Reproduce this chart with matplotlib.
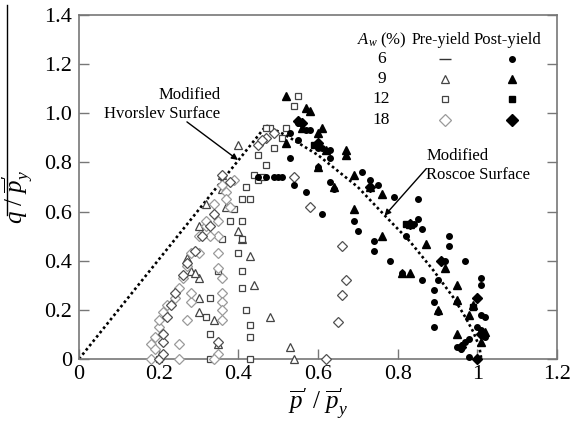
import matplotlib
matplotlib.use("Agg")
import matplotlib.pyplot as plt
from matplotlib.lines import Line2D

plt.rcParams["font.family"] = ["Liberation Serif", "DejaVu Serif"]
plt.rcParams["mathtext.fontset"] = "custom"
plt.rcParams["mathtext.rm"] = "Liberation Serif"
plt.rcParams["mathtext.it"] = "Liberation Serif:italic"
plt.rcParams["mathtext.bf"] = "Liberation Serif:bold"

# ---- data: normalised mean stress p'/p'y and deviator stress q/p'y ----
# pre-yield, Aw = 9 %
pre9_p = [0.40, 0.36, 0.36, 0.37, 0.32, 0.30, 0.40, 0.41, 0.27, 0.28, 0.30, 0.43,
          0.44, 0.30, 0.30, 0.34, 0.48, 0.35, 0.53, 0.54, 0.29]
pre9_q = [0.87, 0.75, 0.69, 0.62, 0.63, 0.54, 0.52, 0.49, 0.41, 0.36, 0.33, 0.42,
          0.30, 0.25, 0.19, 0.16, 0.17, 0.06, 0.05, 0.00, 0.35]
# pre-yield, Aw = 12 %
pre12_p = [0.55, 0.54, 0.48, 0.47, 0.52, 0.51, 0.49, 0.45, 0.47, 0.44, 0.45, 0.42,
           0.41, 0.43, 0.39, 0.38, 0.41, 0.36, 0.41, 0.40, 0.41, 0.41, 0.42, 0.43,
           0.43, 0.43, 0.33, 0.32, 0.33, 0.33, 0.35, 0.20, 0.46]
pre12_q = [1.07, 1.03, 0.94, 0.94, 0.94, 0.90, 0.86, 0.83, 0.79, 0.75, 0.73, 0.70,
           0.65, 0.65, 0.61, 0.56, 0.56, 0.49, 0.49, 0.43, 0.36, 0.29, 0.20, 0.14,
           0.09, 0.00, 0.25, 0.17, 0.10, 0.00, 0.36, 0.00, 0.74]
# pre-yield, Aw = 18 % (darker tests)
pre18a_p = [0.47, 0.45, 0.46, 0.49, 0.54, 0.58, 0.66, 0.67, 0.66, 0.65, 0.62,
            0.20, 0.21, 0.21, 0.21, 0.22, 0.23, 0.24, 0.26, 0.27, 0.29, 0.31,
            0.33, 0.34, 0.38, 0.36, 0.35]
pre18a_q = [0.90, 0.87, 0.89, 0.92, 0.74, 0.62, 0.46, 0.32, 0.26, 0.15, 0.00,
            0.00, 0.02, 0.07, 0.10, 0.17, 0.22, 0.27, 0.34, 0.39, 0.44, 0.50,
            0.54, 0.59, 0.72, 0.75, 0.07]
# pre-yield, Aw = 18 % (lighter tests)
pre18b_p = [0.25, 0.25, 0.27, 0.28, 0.28, 0.30, 0.32, 0.35, 0.35, 0.35, 0.35,
            0.36, 0.36, 0.36, 0.36, 0.36, 0.35, 0.34, 0.39, 0.37, 0.37, 0.36,
            0.18, 0.18, 0.19, 0.19, 0.20, 0.20, 0.21, 0.22, 0.24, 0.25, 0.26,
            0.27, 0.28, 0.30, 0.32, 0.33, 0.34, 0.38]
pre18b_q = [0.00, 0.06, 0.16, 0.23, 0.27, 0.43, 0.54, 0.56, 0.50, 0.43, 0.37,
            0.33, 0.27, 0.23, 0.20, 0.16, 0.02, 0.00, 0.73, 0.68, 0.65, 0.71,
            0.00, 0.06, 0.04, 0.09, 0.13, 0.16, 0.19, 0.22, 0.25, 0.29, 0.33,
            0.38, 0.43, 0.50, 0.56, 0.50, 0.63, 0.62]
# post-yield, Aw = 6 %
post6_p = [0.53, 0.55, 0.53, 0.54, 0.57, 0.55, 0.57, 0.58, 0.60, 0.61, 0.61, 0.63,
           0.63, 0.63, 0.64, 0.60, 0.45, 0.47, 0.49, 0.50, 0.69, 0.70, 0.71, 0.73,
           0.74, 0.74, 0.78, 0.79, 0.81, 0.82, 0.84, 0.85, 0.85, 0.86, 0.86, 0.89,
           0.89, 0.89, 0.90, 0.90, 0.92, 0.93, 0.93, 0.95, 0.96, 0.97, 0.97, 0.98,
           0.98, 1.00, 1.00, 1.01, 1.01, 1.01, 1.02, 1.01, 1.02, 0.95, 0.75, 0.51]
post6_q = [0.92, 0.89, 0.82, 0.71, 0.68, 0.96, 0.93, 0.93, 0.86, 0.86, 0.59, 0.82,
           0.85, 0.72, 0.69, 0.78, 0.74, 0.74, 0.74, 0.74, 0.56, 0.52, 0.76, 0.73,
           0.48, 0.44, 0.40, 0.66, 0.35, 0.50, 0.55, 0.65, 0.57, 0.53, 0.32, 0.28,
           0.23, 0.13, 0.19, 0.32, 0.40, 0.50, 0.46, 0.05, 0.04, 0.40, 0.07, 0.08,
           0.01, 0.13, 0.00, 0.33, 0.30, 0.18, 0.17, 0.12, 0.09, 0.23, 0.71, 0.74]
# post-yield, Aw = 9 %
post9_p = [0.52, 0.57, 0.58, 0.60, 0.61, 0.62, 0.52, 0.60, 0.67, 0.67, 0.69, 0.69,
           0.73, 0.76, 0.76, 0.81, 0.83, 0.87, 0.92, 0.95, 0.95, 0.98, 0.99, 0.90,
           0.83, 1.02, 1.01, 0.64, 0.56, 0.95]
post9_q = [1.07, 1.02, 1.01, 0.92, 0.94, 0.85, 0.88, 0.78, 0.85, 0.83, 0.75, 0.61,
           0.70, 0.67, 0.50, 0.35, 0.35, 0.47, 0.37, 0.30, 0.10, 0.18, 0.22, 0.20,
           0.55, 0.11, 0.07, 0.70, 0.94, 0.24]
# post-yield, Aw = 12 %
post12_p = [0.59, 0.82, 0.99]
post12_q = [0.87, 0.55, 0.21]
# post-yield, Aw = 18 %
post18_p = [0.55, 0.60, 0.73, 0.91, 0.83, 1.00, 1.00, 0.96, 1.01, 0.56]
post18_q = [0.97, 0.88, 0.70, 0.40, 0.55, 0.25, 0.00, 0.05, 0.10, 0.96]

# yield surfaces
hvorslev_p = [0.0, 0.47]
hvorslev_q = [0.0, 0.95]
roscoe_p = [0.47, 0.52, 0.60, 0.70, 0.77, 0.83, 0.89, 0.94, 0.97, 0.99, 1.005, 1.01]
roscoe_q = [0.95, 0.91, 0.83, 0.70, 0.58, 0.48, 0.36, 0.25, 0.17, 0.11, 0.05, 0.00]

legend_rows = ["6", "9", "12", "18"]

fig = plt.figure(figsize=(5.70, 4.23), dpi=100)
ax = fig.add_axes([79 / 570, 1 - 359 / 423, 478 / 570, 344 / 423])

dot = (0, (1.0, 1.1))
ax.plot(hvorslev_p, hvorslev_q, color="black", lw=1.9, ls=dot, zorder=2)
ax.plot(roscoe_p, roscoe_q, color="black", lw=1.9, ls=dot, zorder=2)

kw = dict(ls="none", clip_on=False, zorder=3)
ax.plot(pre9_p, pre9_q, marker="^", ms=5.3, mfc="white", mec="#444444", mew=0.9, **kw)
ax.plot(pre12_p, pre12_q, marker="s", ms=4.6, mfc="white", mec="#444444", mew=0.9, **kw)
ax.plot(pre18b_p, pre18b_q, marker="D", ms=5.6, mfc="white", mec="#9a9a9a", mew=0.9, **kw)
ax.plot(pre18a_p, pre18a_q, marker="D", ms=5.6, mfc="white", mec="#505050", mew=0.9, **kw)
ax.plot(post6_p, post6_q, marker="o", ms=4.0, mfc="black", mec="black", **kw)
ax.plot(post9_p, post9_q, marker="^", ms=5.3, mfc="black", mec="black", **kw)
ax.plot(post12_p, post12_q, marker="s", ms=4.2, mfc="black", mec="black", **kw)
ax.plot(post18_p, post18_q, marker="D", ms=5.6, mfc="black", mec="black", **kw)

ax.set_xlim(0, 1.2)
ax.set_ylim(0, 1.4)
ax.set_xticks([0, 0.2, 0.4, 0.6, 0.8, 1.0, 1.2])
ax.set_xticklabels(["0", "0.2", "0.4", "0.6", "0.8", "1", "1.2"])
ax.set_yticks([0, 0.2, 0.4, 0.6, 0.8, 1.0, 1.2, 1.4])
ax.set_yticklabels(["0", "0.2", "0.4", "0.6", "0.8", "1.0", "1.2", "1.4"])
ax.tick_params(direction="in", length=7, width=1, color="#777777",
               labelsize=16, right=True)
ax.tick_params(axis="x", pad=4)
ax.tick_params(axis="y", pad=5)
for s in ax.spines.values():
    s.set_color("#777777")
    s.set_linewidth(1.2)

ax.set_xlabel(r"$\overline{p}{}^{\prime}\ /\ \overline{p}{}^{\prime}_{y}$", fontsize=18, labelpad=2)
ax.set_ylabel(r"$q\ /\ \overline{p}{}^{\prime}_{y}$", fontsize=18)
ax.yaxis.set_label_coords(-0.093, 0.47)

# annotations
ax.text(0.355, 1.075, "Modified", ha="right", va="center", fontsize=12)
ax.text(0.355, 0.996, "Hvorslev Surface", ha="right", va="center", fontsize=12)
ax.annotate("", xy=(0.399, 0.81), xytext=(0.271, 0.965),
            arrowprops=dict(arrowstyle="-|>", color="black", lw=1.0,
                            mutation_scale=9, shrinkA=0, shrinkB=0))
ax.text(0.872, 0.828, "Modified", ha="left", va="center", fontsize=12)
ax.text(0.872, 0.749, "Roscoe Surface", ha="left", va="center", fontsize=12)
ax.annotate("", xy=(0.767, 0.583), xytext=(0.872, 0.775),
            arrowprops=dict(arrowstyle="-|>", color="black", lw=1.0,
                            mutation_scale=9, shrinkA=0, shrinkB=0))

# key table
tr = ax.transAxes
ax.text(0.633, 0.927, r"$A_w$ (%)", transform=tr, ha="center", va="center", fontsize=12)
ax.text(0.756, 0.927, "Pre-yield", transform=tr, ha="center", va="center", fontsize=11.5)
ax.text(0.896, 0.927, "Post-yield", transform=tr, ha="center", va="center", fontsize=12)
row_y = [0.872, 0.814, 0.756, 0.695]
pre_style = [dict(marker="_", ms=9, mec="#333333", mew=1.0),
             dict(marker="^", ms=5.3, mfc="white", mec="#444444", mew=0.9),
             dict(marker="s", ms=4.6, mfc="white", mec="#444444", mew=0.9),
             dict(marker="D", ms=6, mfc="white", mec="#9a9a9a", mew=0.9)]
post_style = [dict(marker="o", ms=4.0, mfc="black", mec="black"),
              dict(marker="^", ms=5.3, mfc="black", mec="black"),
              dict(marker="s", ms=4.2, mfc="black", mec="black"),
              dict(marker="D", ms=6, mfc="black", mec="black")]
for lab, yy, ps, qs in zip(legend_rows, row_y, pre_style, post_style):
    ax.text(0.633, yy, lab, transform=tr, ha="center", va="center", fontsize=12.5)
    ax.plot([0.765], [yy], transform=tr, ls="none", **ps)
    ax.plot([0.905], [yy], transform=tr, ls="none", **qs)

# overline rule beside the y label
fig.add_artist(Line2D([7 / 570, 7 / 570], [1 - 5 / 423, 1 - 215 / 423],
                      color="black", lw=1.0, transform=fig.transFigure))

fig.savefig("out.png", dpi=100)
